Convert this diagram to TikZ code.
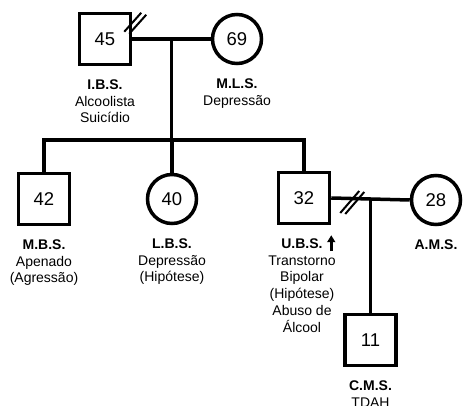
\documentclass[tikz,border=0pt]{standalone}
\usepackage{fontspec}
\setmainfont{Liberation Sans}
\usetikzlibrary{positioning,calc,arrows.meta}
\tikzstyle{male} = [draw,line width=3.5pt,rectangle,minimum size=51pt,inner sep=0,font=\fontsize{18.5}{18.5}\selectfont]
\tikzstyle{female} = [draw,line width=3.5pt,circle,minimum size=49pt,inner sep=0,font=\fontsize{18.5}{18.5}\selectfont]
\tikzstyle{link} = [-,line width=3.5pt]
\tikzstyle{slash} = [-,line width=2pt]
\tikzstyle{info} = [align=center,inner sep=0,font=\fontsize{14}{16.8}\selectfont]
\def \gap {13pt}
\def \namefont {\fontsize{14}{16.8}\selectfont\bfseries}

\begin{document}
\begin{tikzpicture}[x=1pt,y=-1pt]
      \useasboundingbox (0,0) rectangle (464,406);
      % parents
      \node[male] (ibs) at (105,39) {45};
      \node[female] (mls) at (237,39) {69};
      \node[info,below=\gap of ibs] (ibsinfo) {{\namefont I.B.S.}\\Alcoolista\\Suicídio};
      \node[info,below=\gap of mls] (mlsinfo) {{\namefont M.L.S.}\\Depressão};
      \draw[link] (ibs.east) -- (mls.west);
      \coordinate (p1) at ($(ibs.east)!0.5!(mls.west)$);
      \coordinate (sib) at ($(p1)+(0,101)$);
      \draw[link] (p1) -- (sib);
      \draw[slash] ($(ibs.north east)+(-8,20)$) -- ++(17,-19);
      \draw[slash] ($(ibs.north east)+(-3,22)$) -- ++(17,-19);
      % children
      \node[male] (mbs) at (44,199) {42};
      \node[female] (lbs) at (172,199) {40};
      \node[male] (ubs) at (304,198) {32};
      \node[female] (ams) at (436,200) {28};
      \node[info,below=\gap of mbs] (mbsinfo) {{\namefont M.B.S.}\\Apenado\\(Agressão)};
      \node[info,below=\gap of lbs] (lbsinfo) {{\namefont L.B.S.}\\Depressão\\(Hipótese)};
      \node[info,below=\gap of ubs,xshift=-2pt] (ubsinfo) {{\namefont U.B.S.}\\Transtorno\\Bipolar\\(Hipótese)\\Abuso de\\Álcool};
      \node[info,below=\gap of ams] (amsinfo) {{\namefont A.M.S.}};
      \draw[link] (mbs.north) -- (mbs.north |- sib) -- (ubs.north |- sib) -- (ubs.north);
      \draw[link] (lbs.north) -- (lbs.north |- sib);
      \coordinate (mark) at ($(ubs.south east)+(0,26)$);
      \coordinate (tip) at ($(ubs.south east)+(0,10)$);
      \draw[-{Triangle[length=7pt,width=8pt]},line width=2.5pt] (mark) -- (tip);
      % second couple
      \draw[link] (ubs.east) -- (ams.west);
      \coordinate (p2) at ($(ubs.east)!0.5!(ams.west)$);
      \draw[slash] ($(ubs.east)+(9,15)$) -- ++(19,-22);
      \draw[slash] ($(ubs.east)+(14,16)$) -- ++(19,-22);
      \node[male] (cms) at (p2 |- 0,340) {11};
      \node[info,below=\gap of cms] (cmsinfo) {{\namefont C.M.S.}\\TDAH};
      \draw[link] (p2) -- (cms.north);
    \end{tikzpicture}
\end{document}
